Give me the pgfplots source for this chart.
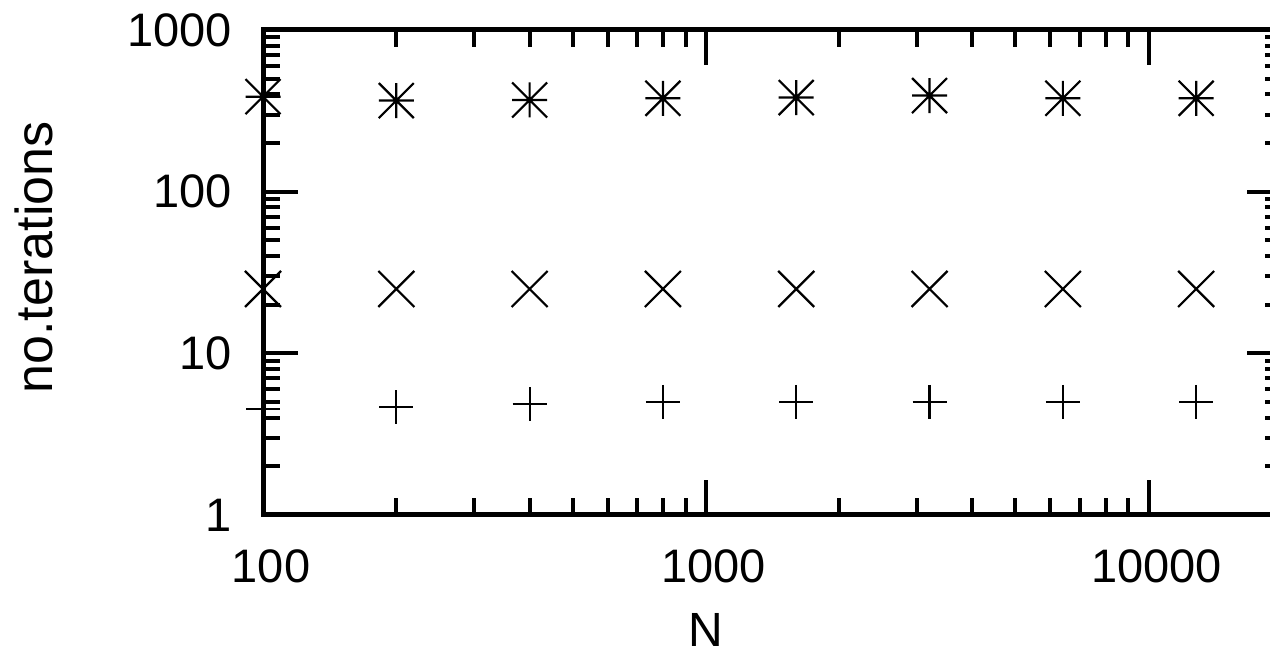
\documentclass[border=0pt]{standalone}
\usepackage{pgfplots}
\pgfplotsset{compat=1.18}
\usepackage{fontspec}
\setmainfont{Liberation Sans}
\usetikzlibrary{plotmarks}

\pgfdeclareplotmark{gpx}{%
  \pgfpathmoveto{\pgfqpoint{-\pgfplotmarksize}{-\pgfplotmarksize}}%
  \pgfpathlineto{\pgfqpoint{\pgfplotmarksize}{\pgfplotmarksize}}%
  \pgfpathmoveto{\pgfqpoint{-\pgfplotmarksize}{\pgfplotmarksize}}%
  \pgfpathlineto{\pgfqpoint{\pgfplotmarksize}{-\pgfplotmarksize}}%
  \pgfusepathqstroke}
\pgfdeclareplotmark{gpstar}{%
  \pgfpathmoveto{\pgfqpoint{-\pgfplotmarksize}{-\pgfplotmarksize}}%
  \pgfpathlineto{\pgfqpoint{\pgfplotmarksize}{\pgfplotmarksize}}%
  \pgfpathmoveto{\pgfqpoint{-\pgfplotmarksize}{\pgfplotmarksize}}%
  \pgfpathlineto{\pgfqpoint{\pgfplotmarksize}{-\pgfplotmarksize}}%
  \pgfpathmoveto{\pgfqpoint{-\pgfplotmarksize}{0pt}}%
  \pgfpathlineto{\pgfqpoint{\pgfplotmarksize}{0pt}}%
  \pgfpathmoveto{\pgfqpoint{0pt}{-\pgfplotmarksize}}%
  \pgfpathlineto{\pgfqpoint{0pt}{\pgfplotmarksize}}%
  \pgfusepathqstroke}

\pgfplotstableread{
x y
100 4.5
200 4.65
400 4.85
800 5
1600 5
3200 5
6400 5
12800 5
}\plusdata
\pgfplotstableread{
x y
100 25
200 25
400 25
800 25
1600 25
3200 25
6400 25
12800 25
}\crossdata
\pgfplotstableread{
x y
100 387
200 366
400 369
800 378
1600 382
3200 393
6400 378
12800 378
}\stardata

\begin{document}
\begin{tikzpicture}
\begin{axis}[
  at={(0,0)}, anchor=south west,
  scale only axis, width=509.5pt, height=242.5pt,
  xmode=log, ymode=log,
  xmin=100, xmax=20000, ymin=1, ymax=1000,
  axis line style={line width=2.5pt},
  tick style={line width=2pt, black},
  major tick length=17.5pt, minor tick length=8.5pt,
  tick align=inside,
  xtick={100,1000,10000}, xticklabels={100,1000,10000},
  ytick={1,10,100,1000}, yticklabels={1,10,100,1000},
  minor xtick={200,300,400,500,600,700,800,900,2000,3000,4000,5000,6000,7000,8000,9000,20000},
  minor ytick={2,3,4,5,6,7,8,9,20,30,40,50,60,70,80,90,200,300,400,500,600,700,800,900},
  /pgf/number format/assume math mode=true,
  ticklabel style={font=\fontsize{23.5}{28}\selectfont, inner sep=0pt},
  xticklabel style={anchor=center, yshift=-25.5pt, xshift=4pt},
  yticklabel style={anchor=east, xshift=-15.5pt},
  label style={inner sep=0pt},
  xlabel={N}, ylabel={no.terations},
  xlabel style={font=\fontsize{24}{28}\selectfont, at={(axis description cs:0.4347,-0.2371)}, anchor=center},
  ylabel style={font=\fontsize{26}{31}\selectfont, at={(axis description cs:-0.2245,0.531)}, anchor=center},
  clip=false,
]
\addplot[only marks, mark=+, mark size=8.5pt, line width=1.1pt, black] table[x=x,y=y] {\plusdata};
\addplot[only marks, mark=gpx, mark size=9pt, line width=1.1pt, black] table[x=x,y=y] {\crossdata};
\addplot[only marks, mark=gpstar, mark size=8.75pt, line width=1.1pt, black] table[x=x,y=y] {\stardata};
\end{axis}
\pgfresetboundingbox
\useasboundingbox (-131.5pt,-71pt) rectangle (503.5pt,257.5pt);
\end{tikzpicture}
\end{document}
